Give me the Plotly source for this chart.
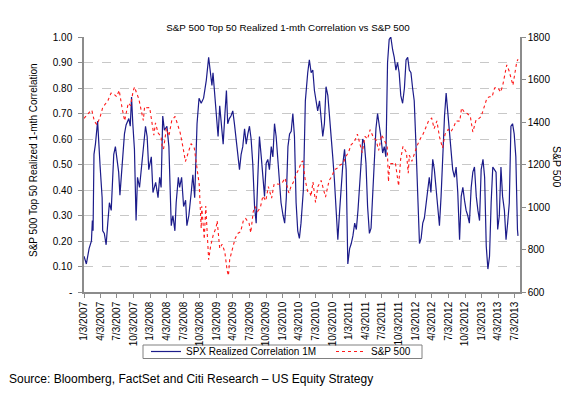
import plotly.graph_objects as go

# ---------------- data ----------------
corr_dates = [
    "2007-01-03", "2007-01-16", "2007-01-31", "2007-02-13", "2007-02-18", "2007-02-22", "2007-02-27",
    "2007-03-07", "2007-03-19", "2007-03-25", "2007-04-02", "2007-04-13", "2007-04-16", "2007-04-25",
    "2007-05-05", "2007-05-14", "2007-05-23", "2007-06-02", "2007-06-11", "2007-06-16", "2007-06-25",
    "2007-07-02", "2007-07-13", "2007-07-20", "2007-08-01", "2007-08-14", "2007-08-23", "2007-09-07",
    "2007-09-15", "2007-09-22", "2007-09-29", "2007-10-08", "2007-10-17", "2007-10-25", "2007-11-05",
    "2007-11-14", "2007-11-27", "2007-12-08", "2007-12-17", "2007-12-26",
    "2008-01-09", "2008-01-18", "2008-02-02", "2008-02-15", "2008-02-24", "2008-03-03", "2008-03-12",
    "2008-03-21", "2008-04-04", "2008-04-15", "2008-04-22", "2008-04-28", "2008-05-07", "2008-05-18",
    "2008-05-25", "2008-06-06", "2008-06-13", "2008-06-24", "2008-07-05", "2008-07-16", "2008-07-23",
    "2008-08-03", "2008-08-16", "2008-08-25", "2008-09-04", "2008-09-17", "2008-09-28", "2008-10-10",
    "2008-10-23", "2008-11-07", "2008-11-20", "2008-11-29", "2008-12-08", "2008-12-14", "2008-12-23",
    "2009-01-02", "2009-01-11", "2009-01-20", "2009-01-29", "2009-02-08", "2009-02-17", "2009-02-26",
    "2009-03-05", "2009-03-14", "2009-03-23", "2009-04-02", "2009-04-11", "2009-04-20", "2009-04-29",
    "2009-05-09", "2009-05-18", "2009-05-27", "2009-06-06", "2009-06-15", "2009-06-24", "2009-07-03",
    "2009-07-12", "2009-07-21", "2009-07-31", "2009-08-09", "2009-08-18", "2009-08-27", "2009-09-06",
    "2009-09-15", "2009-09-24", "2009-10-03", "2009-10-12", "2009-10-21", "2009-10-31", "2009-11-09",
    "2009-11-18", "2009-11-27", "2009-12-06", "2009-12-15", "2009-12-24",
    "2010-01-04", "2010-01-13", "2010-01-22", "2010-01-31", "2010-02-09", "2010-02-18", "2010-02-27",
    "2010-03-08", "2010-03-17", "2010-03-26", "2010-04-04", "2010-04-13", "2010-04-26", "2010-05-07",
    "2010-05-20", "2010-05-29", "2010-06-08", "2010-06-17", "2010-06-26", "2010-07-05", "2010-07-14",
    "2010-07-24", "2010-08-02", "2010-08-11", "2010-08-20", "2010-08-29", "2010-09-08", "2010-09-17",
    "2010-09-26", "2010-10-05", "2010-10-14", "2010-10-24", "2010-11-02", "2010-11-12", "2010-11-21",
    "2010-11-30", "2010-12-09", "2010-12-18", "2010-12-27",
    "2011-01-06", "2011-01-15", "2011-01-24", "2011-02-03", "2011-02-12", "2011-02-21", "2011-03-02",
    "2011-03-10", "2011-03-19", "2011-03-28", "2011-04-06", "2011-04-15", "2011-04-25", "2011-05-04",
    "2011-05-13", "2011-05-22", "2011-05-31", "2011-06-09", "2011-06-18", "2011-06-27", "2011-07-07",
    "2011-07-16", "2011-07-25", "2011-08-03", "2011-08-12", "2011-08-21", "2011-08-31", "2011-09-09",
    "2011-09-18", "2011-09-27", "2011-10-06", "2011-10-15", "2011-10-25", "2011-11-04", "2011-11-13",
    "2011-11-22", "2011-12-01", "2011-12-10", "2011-12-19", "2011-12-28",
    "2012-01-07", "2012-01-17", "2012-01-26", "2012-02-04", "2012-02-13", "2012-02-22", "2012-03-02",
    "2012-03-11", "2012-03-20", "2012-03-29", "2012-04-08", "2012-04-17", "2012-04-27", "2012-05-06",
    "2012-05-15", "2012-05-24", "2012-06-02", "2012-06-12", "2012-06-21", "2012-06-30", "2012-07-09",
    "2012-07-18", "2012-07-27", "2012-08-06", "2012-08-15", "2012-08-24", "2012-09-03", "2012-09-12",
    "2012-09-21", "2012-09-30", "2012-10-09", "2012-10-18", "2012-10-27", "2012-11-06", "2012-11-15",
    "2012-11-24", "2012-12-04", "2012-12-13", "2012-12-22", "2012-12-31",
    "2013-01-10", "2013-01-19", "2013-01-28", "2013-02-06", "2013-02-15", "2013-02-24", "2013-03-05",
    "2013-03-14", "2013-03-23", "2013-04-01", "2013-04-10", "2013-04-19", "2013-04-28", "2013-05-08",
    "2013-05-17", "2013-05-26", "2013-06-04", "2013-06-13", "2013-06-22", "2013-07-01", "2013-07-10",
    "2013-07-19", "2013-07-22",
]
corr_values = [
    0.14, 0.11, 0.17, 0.20, 0.28, 0.24, 0.54,
    0.58, 0.67, 0.61, 0.49, 0.37, 0.24, 0.23,
    0.185, 0.27, 0.35, 0.32, 0.45, 0.54, 0.57,
    0.52, 0.47, 0.38, 0.505, 0.62, 0.655, 0.68,
    0.65, 0.765, 0.66, 0.56, 0.28, 0.45, 0.41,
    0.48, 0.57, 0.65, 0.61, 0.48,
    0.53, 0.39, 0.43, 0.37, 0.45, 0.41, 0.69,
    0.635, 0.65, 0.57, 0.40, 0.26, 0.30, 0.24,
    0.35, 0.45, 0.41, 0.45, 0.335, 0.36, 0.26,
    0.30, 0.39, 0.46, 0.37, 0.66, 0.76, 0.74,
    0.76, 0.83, 0.92, 0.86, 0.81, 0.86, 0.77,
    0.69, 0.61, 0.73, 0.64, 0.58, 0.69, 0.79,
    0.66, 0.68, 0.69, 0.71, 0.66, 0.60, 0.53,
    0.48, 0.54, 0.57, 0.64, 0.58, 0.62, 0.65,
    0.60, 0.505, 0.335, 0.27, 0.45, 0.61, 0.53,
    0.43, 0.375, 0.505, 0.52, 0.48, 0.57, 0.53,
    0.66, 0.61, 0.52, 0.45, 0.35,
    0.30, 0.27, 0.37, 0.57, 0.62, 0.63, 0.70,
    0.61, 0.35, 0.24, 0.21, 0.27, 0.40, 0.75,
    0.86, 0.91, 0.86, 0.87, 0.79, 0.75, 0.71,
    0.75, 0.67, 0.61, 0.66, 0.805, 0.77, 0.69,
    0.64, 0.53, 0.44, 0.335, 0.205, 0.32, 0.43,
    0.505, 0.56, 0.48, 0.11,
    0.17, 0.19, 0.22, 0.27, 0.245, 0.32, 0.41,
    0.505, 0.60, 0.585, 0.505, 0.335, 0.23, 0.25,
    0.375, 0.48, 0.64, 0.70, 0.66, 0.61, 0.545,
    0.57, 0.53, 0.90, 0.99, 1.00, 0.95, 0.92,
    0.87, 0.90, 0.86, 0.77, 0.74, 0.80, 0.91,
    0.92, 0.87, 0.86, 0.80, 0.75,
    0.57, 0.375, 0.19, 0.21, 0.27, 0.29, 0.35,
    0.41, 0.45, 0.39, 0.52, 0.48, 0.40, 0.35,
    0.26, 0.375, 0.53, 0.69, 0.78, 0.71, 0.64,
    0.54, 0.48, 0.45, 0.49, 0.39, 0.205, 0.375,
    0.41, 0.36, 0.32, 0.30, 0.27, 0.41, 0.47,
    0.49, 0.375, 0.32, 0.28, 0.48,
    0.52, 0.45, 0.18, 0.09, 0.14, 0.35, 0.49,
    0.48, 0.47, 0.245, 0.30, 0.49, 0.375, 0.32,
    0.205, 0.27, 0.35, 0.65, 0.66, 0.62, 0.53,
    0.245, 0.22,
]

spx_dates = [
    "2007-01-03", "2007-01-15", "2007-02-01", "2007-02-15", "2007-03-01", "2007-03-15", "2007-04-02",
    "2007-04-16", "2007-05-01", "2007-05-15", "2007-06-01", "2007-06-15", "2007-07-02", "2007-07-16",
    "2007-08-01", "2007-08-15", "2007-09-04", "2007-09-17", "2007-10-01", "2007-10-09", "2007-10-15",
    "2007-11-01", "2007-11-15", "2007-11-26", "2007-12-03", "2007-12-14", "2007-12-31",
    "2008-01-15", "2008-01-23", "2008-02-01", "2008-02-15", "2008-03-03", "2008-03-10", "2008-03-17",
    "2008-04-01", "2008-04-15", "2008-05-01", "2008-05-19", "2008-06-02", "2008-06-16", "2008-07-01",
    "2008-07-15", "2008-08-01", "2008-08-15", "2008-09-02", "2008-09-15", "2008-09-29", "2008-10-10",
    "2008-10-13", "2008-10-27", "2008-11-04", "2008-11-20", "2008-12-01", "2008-12-15", "2008-12-31",
    "2009-01-06", "2009-01-20", "2009-02-02", "2009-02-17", "2009-03-02", "2009-03-09", "2009-03-16",
    "2009-04-01", "2009-04-15", "2009-05-01", "2009-05-15", "2009-06-01", "2009-06-12", "2009-07-01",
    "2009-07-10", "2009-07-24", "2009-08-03", "2009-08-17", "2009-09-01", "2009-09-15", "2009-10-01",
    "2009-10-15", "2009-11-02", "2009-11-16", "2009-12-01", "2009-12-15", "2009-12-31",
    "2010-01-15", "2010-02-05", "2010-02-16", "2010-03-01", "2010-03-15", "2010-04-01", "2010-04-15",
    "2010-04-23", "2010-05-06", "2010-05-20", "2010-06-01", "2010-06-07", "2010-06-18", "2010-07-02",
    "2010-07-15", "2010-08-02", "2010-08-16", "2010-08-26", "2010-09-15", "2010-10-01", "2010-10-15",
    "2010-11-01", "2010-11-15", "2010-12-01", "2010-12-15", "2010-12-31",
    "2011-01-14", "2011-02-01", "2011-02-18", "2011-03-01", "2011-03-16", "2011-04-01", "2011-04-15",
    "2011-04-29", "2011-05-16", "2011-06-01", "2011-06-15", "2011-07-01", "2011-07-15", "2011-08-01",
    "2011-08-08", "2011-08-15", "2011-09-01", "2011-09-15", "2011-10-03", "2011-10-14", "2011-10-27",
    "2011-11-15", "2011-11-25", "2011-12-01", "2011-12-15", "2011-12-30",
    "2012-01-13", "2012-02-01", "2012-02-15", "2012-03-01", "2012-03-15", "2012-04-02", "2012-04-16",
    "2012-05-01", "2012-05-15", "2012-06-01", "2012-06-15", "2012-07-02", "2012-07-16", "2012-08-01",
    "2012-08-15", "2012-09-04", "2012-09-14", "2012-10-01", "2012-10-15", "2012-11-01", "2012-11-15",
    "2012-12-03", "2012-12-14", "2012-12-31",
    "2013-01-15", "2013-02-01", "2013-02-15", "2013-03-01", "2013-03-15", "2013-04-01", "2013-04-18",
    "2013-05-01", "2013-05-21", "2013-06-03", "2013-06-24", "2013-07-01", "2013-07-15", "2013-07-22",
]
spx_values = [
    1417, 1431, 1445, 1456, 1404, 1387, 1424,
    1468, 1486, 1501, 1536, 1533, 1519, 1549,
    1465, 1406, 1489, 1477, 1547, 1565, 1548,
    1509, 1452, 1407, 1472, 1467, 1468,
    1380, 1338, 1396, 1349, 1331, 1273, 1276,
    1370, 1334, 1409, 1426, 1385, 1350, 1284,
    1214, 1260, 1298, 1277, 1192, 1106, 899,
    1003, 848, 1005, 752, 816, 868, 903,
    935, 805, 825, 789, 700, 677, 753,
    811, 852, 877, 883, 942, 946, 923,
    879, 979, 1002, 979, 998, 1052, 1029,
    1096, 1042, 1109, 1108, 1107, 1115,
    1136, 1066, 1094, 1115, 1150, 1178, 1211,
    1217, 1128, 1071, 1070, 1050, 1117, 1022,
    1096, 1125, 1079, 1047, 1125, 1146, 1176,
    1184, 1198, 1206, 1236, 1258,
    1293, 1307, 1343, 1306, 1256, 1332, 1320,
    1364, 1329, 1315, 1266, 1340, 1316, 1287,
    1119, 1204, 1204, 1209, 1099, 1224, 1285,
    1257, 1159, 1244, 1215, 1258,
    1289, 1324, 1343, 1374, 1403, 1419, 1369,
    1405, 1331, 1278, 1343, 1365, 1353, 1375,
    1405, 1404, 1466, 1444, 1440, 1427, 1353,
    1410, 1413, 1426,
    1472, 1513, 1519, 1518, 1560, 1562, 1541,
    1582, 1669, 1640, 1573, 1615, 1682, 1695,
]

tick_dates = [f"{y}-{m:02d}-03" for y in range(2007, 2014) for m in (1, 4, 7, 10)][:27]
tick_labels = [f"{m}/3/{y}" for y in range(2007, 2014) for m in (1, 4, 7, 10)][:27]

corr_ticks = [0.0, 0.1, 0.2, 0.3, 0.4, 0.5, 0.6, 0.7, 0.8, 0.9, 1.0]
corr_tick_labels = ["-", "0.10", "0.20", "0.30", "0.40", "0.50", "0.60", "0.70", "0.80", "0.90", "1.00"]
spx_ticks = [600, 800, 1000, 1200, 1400, 1600, 1800]

# ---------------- figure ----------------
FONT = "Arial, Liberation Sans, sans-serif"
AXIS_GREY = "#8c8c8c"
OFF = 8  # default page margin of the html body
W, H = 569 - OFF, 398 - OFF
# plot area in page pixels -> figure pixels
PL, PR, PT, PB = 84 - OFF, 520 - OFF, 37 - OFF, 292 - OFF
PW, PH = PR - PL, PB - PT


def px(x_page):
    return (x_page - OFF - PL) / PW


def py(y_page):
    return (PB - (y_page - OFF)) / PH


fig = go.Figure()
fig.add_trace(go.Scatter(
    x=corr_dates, y=corr_values, mode="lines", name="SPX Realized Correlation 1M",
    line=dict(color="#1c1c8a", width=1.2), yaxis="y",
))
fig.add_trace(go.Scatter(
    x=spx_dates, y=spx_values, mode="lines", name="S&P 500",
    line=dict(color="#ff1a1a", width=1.1, dash="dot"), yaxis="y2",
))

fig.update_layout(
    width=W, height=H,
    margin=dict(l=PL, r=W - PR, t=PT, b=H - PB, autoexpand=False),
    paper_bgcolor="white", plot_bgcolor="white",
    font=dict(family=FONT, size=10, color="black"),
    title=dict(
        text="S&P 500 Top 50 Realized 1-mth Correlation vs S&P 500",
        font=dict(family=FONT, size=9.8, color="black"),
        x=(288 - OFF) / W, xref="container", xanchor="center",
        y=1 - (27.5 - OFF) / H, yref="container", yanchor="middle",
    ),
    xaxis=dict(
        type="date", range=["2007-01-03", "2013-08-02"], automargin=False,
        tickvals=tick_dates, ticktext=tick_labels, tickangle=-90,
        ticks="outside", ticklen=4, tickcolor=AXIS_GREY,
        showline=True, linecolor=AXIS_GREY, linewidth=1.5,
        showgrid=False, zeroline=False,
        tickfont=dict(family=FONT, size=10),
    ),
    yaxis=dict(
        range=[0, 1], tickvals=corr_ticks, ticktext=corr_tick_labels, automargin=False,
        ticks="outside", ticklen=4, tickcolor=AXIS_GREY, ticklabelstandoff=4,
        showline=True, linecolor=AXIS_GREY, linewidth=1.5,
        showgrid=True, gridcolor="#c8c8c8", griddash="dash", gridwidth=1,
        zeroline=False, tickfont=dict(family=FONT, size=10),
    ),
    yaxis2=dict(
        range=[600, 1800], tickvals=spx_ticks, overlaying="y", side="right", automargin=False,
        ticks="outside", ticklen=4, tickcolor=AXIS_GREY,
        showline=True, linecolor=AXIS_GREY, linewidth=1.5,
        showgrid=False, zeroline=False, tickfont=dict(family=FONT, size=10),
    ),
    legend=dict(
        orientation="h", xref="paper", yref="paper",
        x=px(146), xanchor="left", y=py(351.5), yanchor="middle",
        borderwidth=0, bgcolor="rgba(0,0,0,0)",
        font=dict(family=FONT, size=10),
        entrywidth=140, entrywidthmode="pixels",
    ),
    showlegend=True,
)

# legend frame
fig.add_shape(
    type="rect", xref="paper", yref="paper",
    x0=px(143), x1=px(422), y0=py(345), y1=py(358.5),
    line=dict(color="#808080", width=1), fillcolor="rgba(0,0,0,0)", layer="below",
)

fig.add_annotation(
    text="S&P 500 Top 50 Realized 1-mth Correlation", textangle=-90,
    xref="paper", yref="paper", x=px(33), y=py(160),
    xanchor="center", yanchor="middle", showarrow=False,
    font=dict(family=FONT, size=10, color="black"),
)
fig.add_annotation(
    text="S&P 500", textangle=90,
    xref="paper", yref="paper", x=px(557), y=py(166),
    xanchor="center", yanchor="middle", showarrow=False,
    font=dict(family=FONT, size=10.5, color="black"),
)
fig.add_annotation(
    text="Source: Bloomberg, FactSet and Citi Research \u2013 US Equity Strategy",
    xref="paper", yref="paper", x=px(7), y=py(379),
    xanchor="left", yanchor="middle", showarrow=False,
    font=dict(family=FONT, size=12, color="black"),
)

fig.write_html("out.html")
